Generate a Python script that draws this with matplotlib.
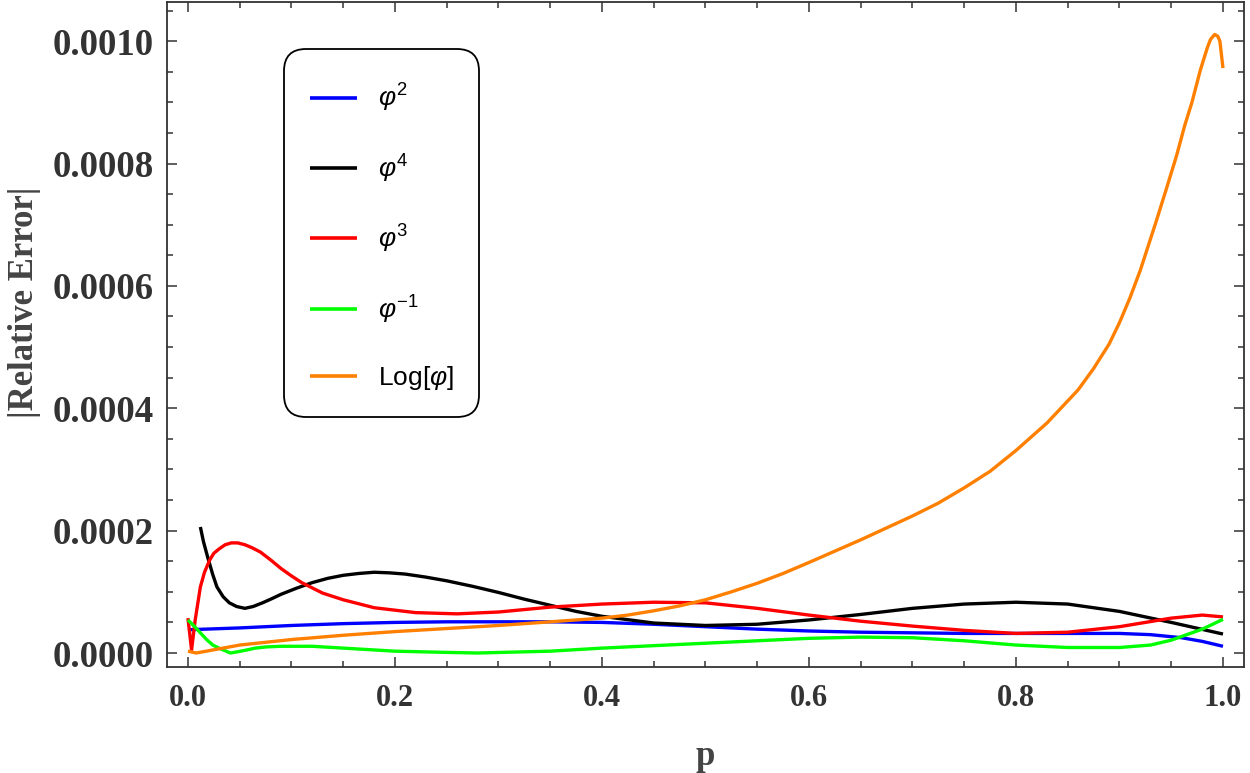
import numpy as np
import matplotlib
matplotlib.use("Agg")
import matplotlib.pyplot as plt
from matplotlib.ticker import MultipleLocator, FormatStrFormatter
from matplotlib.patches import FancyBboxPatch
from matplotlib.transforms import IdentityTransform

# data (y in units of 1e-6)
p_blue = [0.0, 0.05, 0.1, 0.15, 0.2, 0.25, 0.3, 0.35, 0.4, 0.45, 0.5, 0.55, 0.6, 0.65, 0.7, 0.75,
          0.8, 0.85, 0.9, 0.93, 0.96, 0.98, 1.0]
err_blue = [38, 41, 45, 48, 50, 51, 51, 51, 50, 47, 43, 39, 36, 34, 33, 32,
            32, 32, 32, 30, 25, 19, 11]

p_black = [0.012, 0.015, 0.019, 0.024, 0.028, 0.034, 0.04, 0.047, 0.055, 0.063, 0.072, 0.08,
           0.09, 0.105, 0.12, 0.135, 0.15, 0.165, 0.18, 0.195, 0.21, 0.23, 0.25, 0.275, 0.3,
           0.325, 0.35, 0.375, 0.4, 0.45, 0.5, 0.55, 0.6, 0.65, 0.7, 0.75, 0.8, 0.85, 0.9,
           0.95, 1.0]
err_black = [206, 182, 157, 128, 108, 92, 82, 76, 73, 76, 82, 88, 96, 106, 115, 122, 127, 130,
             132, 131, 129, 124, 118, 109, 99, 88, 78, 68, 60, 49, 45, 47, 54, 63, 73, 80, 83,
             80, 68, 50, 31]

p_red = [0.0, 0.0035, 0.007, 0.012, 0.016, 0.021, 0.025, 0.03, 0.036, 0.042, 0.048, 0.055,
         0.062, 0.07, 0.08, 0.09, 0.1, 0.11, 0.13, 0.15, 0.18, 0.22, 0.26, 0.3, 0.35, 0.4,
         0.45, 0.5, 0.55, 0.6, 0.65, 0.7, 0.75, 0.8, 0.85, 0.9, 0.95, 0.98, 1.0]
err_red = [57, 5, 54, 108, 132, 152, 163, 170, 177, 180, 180, 177, 172, 165, 152, 138, 126,
           115, 98, 87, 74, 66, 64, 67, 75, 80, 83, 82, 73, 62, 52, 44, 37, 32, 34, 43, 57,
           62, 59]

p_green = [0.0, 0.006, 0.012, 0.018, 0.024, 0.03, 0.041, 0.048, 0.057, 0.065, 0.076, 0.09,
           0.12, 0.15, 0.2, 0.25, 0.28, 0.35, 0.4, 0.5, 0.6, 0.65, 0.7, 0.75, 0.8, 0.85, 0.9,
           0.93, 0.95, 0.98, 1.0]
err_green = [54, 44, 33, 22, 13, 8, 0, 2, 5, 8, 10, 11, 11, 8, 3, 1, 0, 3, 8, 16, 24, 26, 25,
             20, 13, 9, 9, 13, 21, 39, 55]

p_orange = [0.0, 0.008, 0.05, 0.1, 0.15, 0.2, 0.25, 0.3, 0.35, 0.4, 0.425, 0.45, 0.475, 0.5,
            0.525, 0.55, 0.575, 0.6, 0.65, 0.7, 0.725, 0.75, 0.775, 0.8, 0.83, 0.86, 0.875,
            0.89, 0.9, 0.91, 0.92, 0.935, 0.945, 0.955, 0.963, 0.97, 0.978, 0.985, 0.988,
            0.992, 0.995, 0.997, 1.0]
err_orange = [3, 0, 13, 22, 29, 35, 40, 45, 51, 57, 62, 69, 77, 87,
              100, 114, 130, 148, 185, 224, 245, 270, 297, 331, 376, 430, 465,
              505, 540, 580, 625, 703, 757, 812, 862, 900, 952, 990, 1003,
              1011, 1008, 1000, 956]

labels = [r'$\varphi^{2}$', r'$\varphi^{4}$', r'$\varphi^{3}$', r'$\varphi^{-1}$', r'Log[$\varphi$]']
colors = ['#0000ff', '#000000', '#ff0000', '#00ff00', '#ff8000']

plt.rcParams['font.family'] = ['Liberation Serif', 'DejaVu Serif']
plt.rcParams['mathtext.fontset'] = 'custom'
plt.rcParams['mathtext.rm'] = 'Liberation Sans'
plt.rcParams['mathtext.it'] = 'Liberation Sans:italic'

W, H = 1250, 773
fig = plt.figure(figsize=(W / 100, H / 100), dpi=100)
ax = fig.add_axes([0.1333, 0.1371, 0.8619, 0.8603])

series = [(p_blue, err_blue), (p_black, err_black), (p_red, err_red),
          (p_green, err_green), (p_orange, err_orange)]
for (px, ey), lab, c in zip(series, labels, colors):
    ax.plot(px, np.array(ey) * 1e-6, color=c, lw=2.4, label=lab,
            solid_joinstyle='round', solid_capstyle='butt')

ax.set_xlim(-0.0206, 1.0203)
ax.set_ylim(-0.0000229, 0.001064)

ax.xaxis.set_major_locator(MultipleLocator(0.2))
ax.xaxis.set_minor_locator(MultipleLocator(0.05))
ax.yaxis.set_major_locator(MultipleLocator(0.0002))
ax.yaxis.set_minor_locator(MultipleLocator(0.00005))
ax.xaxis.set_major_formatter(FormatStrFormatter('%.1f'))
ax.yaxis.set_major_formatter(FormatStrFormatter('%.4f'))

ax.tick_params(which='both', direction='in', top=True, right=True, color='#333333', width=1.1)
ax.tick_params(which='major', length=7)
ax.tick_params(which='minor', length=4)
ax.tick_params(axis='y', which='major', pad=9)
ax.tick_params(axis='x', which='major', pad=12)
for lab in ax.get_xticklabels():
    lab.set_fontsize(22)
    lab.set_fontweight('bold')
    lab.set_color('#333333')
for lab in ax.get_yticklabels():
    lab.set_fontsize(26.5)
    lab.set_fontweight('bold')
    lab.set_color('#333333')
for sp in ax.spines.values():
    sp.set_color('#333333')
    sp.set_linewidth(1.3)

ax.set_xlabel('p', fontsize=25, fontweight='bold', color='#444444', labelpad=20)
ax.set_ylabel('|Relative Error|', fontsize=25, fontweight='bold', color='#444444')
ax.yaxis.set_label_coords(-0.117, 0.549)

# rounded legend box, placed in pixels like the reference
box = FancyBboxPatch((284, H - 417), 195, 368, boxstyle='round,pad=0,rounding_size=22',
                     transform=IdentityTransform(), facecolor='white', edgecolor='black',
                     linewidth=1.3, zorder=4, clip_on=False)
ax.add_patch(box)

leg = ax.legend(loc='upper left', bbox_to_anchor=(310, H - 82),
                bbox_transform=IdentityTransform(), frameon=False,
                prop={'family': 'Liberation Sans', 'size': 19},
                handlelength=1.78, handletextpad=0.8, labelspacing=1.45,
                borderpad=0.0, borderaxespad=0.0)
leg.set_zorder(5)
for h in leg.legend_handles:
    h.set_linewidth(2.6)

fig.savefig('out.png', dpi=100)
